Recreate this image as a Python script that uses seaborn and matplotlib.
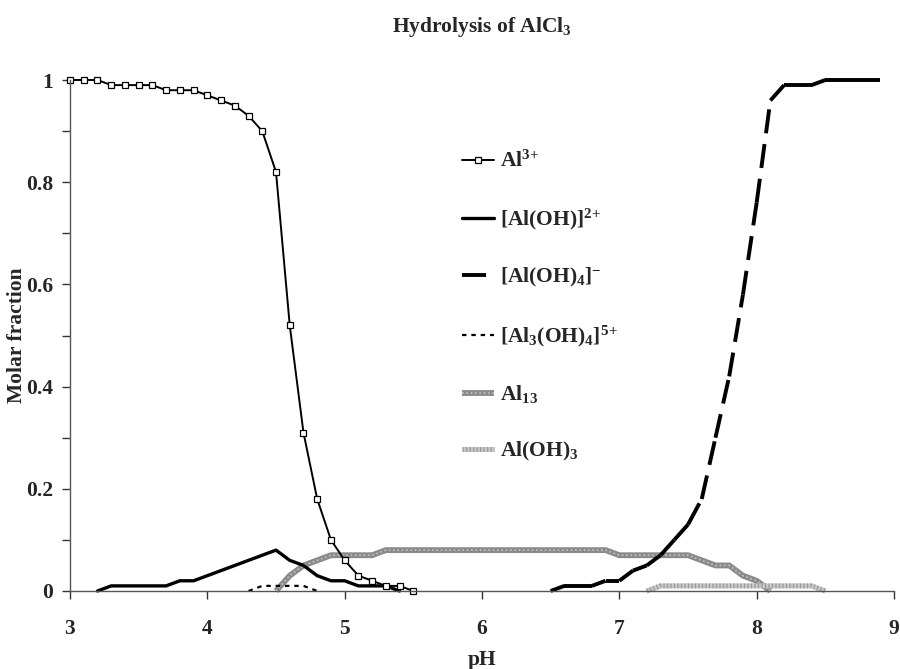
import numpy as np
import pandas as pd
import matplotlib
matplotlib.use("Agg")
import matplotlib.pyplot as plt
import seaborn as sns
from matplotlib.collections import LineCollection
from matplotlib.lines import Line2D
from matplotlib.legend_handler import HandlerTuple

# --- Speciation data (molar fraction vs pH) ---
ph_al3 = [3.0, 3.1, 3.2, 3.3, 3.4, 3.5, 3.6, 3.7, 3.8, 3.9, 4.0, 4.1, 4.2,
          4.3, 4.4, 4.5, 4.6, 4.7, 4.8, 4.9, 5.0, 5.1, 5.2, 5.3, 5.4, 5.5]
al3 = [1.00, 1.00, 1.00, 0.99, 0.99, 0.99, 0.99, 0.98, 0.98, 0.98, 0.97, 0.96, 0.95,
       0.93, 0.90, 0.82, 0.52, 0.31, 0.18, 0.10, 0.06, 0.03, 0.02, 0.01, 0.01, 0.00]

ph_aloh = [3.2, 3.3, 3.4, 3.5, 3.6, 3.7, 3.8, 3.9, 4.0, 4.1, 4.2, 4.3,
           4.4, 4.5, 4.6, 4.7, 4.8, 4.9, 5.0, 5.1, 5.2, 5.3, 5.4]
aloh = [0.00, 0.01, 0.01, 0.01, 0.01, 0.01, 0.02, 0.02, 0.03, 0.04, 0.05, 0.06,
        0.07, 0.08, 0.06, 0.05, 0.03, 0.02, 0.02, 0.01, 0.01, 0.01, 0.00]

ph_aloh4 = [6.5, 6.6, 6.7, 6.8, 6.9, 7.0, 7.1, 7.2, 7.3, 7.4, 7.5, 7.6, 7.7,
            7.8, 7.9, 8.0, 8.1, 8.2, 8.3, 8.4, 8.5, 8.6, 8.7, 8.8, 8.9]
aloh4 = [0.00, 0.01, 0.01, 0.01, 0.02, 0.02, 0.04, 0.05, 0.07, 0.10, 0.13, 0.18, 0.30,
         0.42, 0.58, 0.76, 0.96, 0.99, 0.99, 0.99, 1.00, 1.00, 1.00, 1.00, 1.00]

ph_al3oh4 = [4.3, 4.4, 4.5, 4.6, 4.7, 4.8]
al3oh4 = [0.00, 0.01, 0.01, 0.01, 0.01, 0.00]

ph_al13 = [4.5, 4.6, 4.7, 4.8, 4.9, 5.0, 5.1, 5.2, 5.3, 5.4, 5.5, 5.6, 5.7, 5.8,
           5.9, 6.0, 6.1, 6.2, 6.3, 6.4, 6.5, 6.6, 6.7, 6.8, 6.9, 7.0, 7.1, 7.2,
           7.3, 7.4, 7.5, 7.6, 7.7, 7.8, 7.9, 8.0, 8.1]
al13 = [0.00, 0.03, 0.05, 0.06, 0.07, 0.07, 0.07, 0.07, 0.08, 0.08, 0.08, 0.08, 0.08, 0.08,
        0.08, 0.08, 0.08, 0.08, 0.08, 0.08, 0.08, 0.08, 0.08, 0.08, 0.08, 0.07, 0.07, 0.07,
        0.07, 0.07, 0.07, 0.06, 0.05, 0.05, 0.03, 0.02, 0.00]

ph_aloh3 = [7.2, 7.3, 7.4, 7.5, 7.6, 7.7, 7.8, 7.9, 8.0, 8.1, 8.2, 8.3, 8.4, 8.5]
aloh3 = [0.00, 0.01, 0.01, 0.01, 0.01, 0.01, 0.01, 0.01, 0.01, 0.01, 0.01, 0.01, 0.01, 0.00]

x_ticks = [3, 4, 5, 6, 7, 8, 9]
y_ticks = [0, 0.2, 0.4, 0.6, 0.8, 1.0]
y_ticklabels = ["0", "0.2", "0.4", "0.6", "0.8", "1"]

labels = [r"Al$^{3\!+}$", r"[Al(OH)]$^{2\!+}$", r"[Al(OH)$_4$]$^{-}$",
          r"[Al$_3$(OH)$_4$]$^{5\!+}$", r"Al$_{13}$", r"Al(OH)$_3$"]

# --- Style ---
sns.set_theme(style="ticks")
plt.rcParams["font.family"] = ["Liberation Serif", "DejaVu Serif"]
plt.rcParams["font.weight"] = "bold"
plt.rcParams["mathtext.fontset"] = "custom"
plt.rcParams["mathtext.rm"] = "Liberation Serif:bold"
plt.rcParams["mathtext.bf"] = "Liberation Serif:bold"
plt.rcParams["mathtext.it"] = "Liberation Serif:bold"
FS = 15.5

fig = plt.figure(figsize=(9, 6.69), dpi=100)
fig.patch.set_facecolor("white")
ax = fig.add_axes([70 / 900, 1 - 591 / 669, (894 - 70) / 900, (591 - 80) / 669])
ax.set_facecolor("white")

df_al3 = pd.DataFrame({"pH": ph_al3, "frac": al3})
df_aloh = pd.DataFrame({"pH": ph_aloh, "frac": aloh})
df_al3oh4 = pd.DataFrame({"pH": ph_al3oh4, "frac": al3oh4})
df_al13 = pd.DataFrame({"pH": ph_al13, "frac": al13})
df_aloh3 = pd.DataFrame({"pH": ph_aloh3, "frac": aloh3})

# Al13 (grey textured band)
al13_base = dict(color="#8a8a8a", lw=4.2, solid_capstyle="butt")
al13_tex = dict(color="#c4c4c4", lw=1.2, dashes=(1.0, 1.6))
sns.lineplot(data=df_al13, x="pH", y="frac", ax=ax, sort=False, clip_on=False, **al13_base)
sns.lineplot(data=df_al13, x="pH", y="frac", ax=ax, sort=False, clip_on=False, **al13_tex)

# Al(OH)3 (light grey textured band)
aloh3_base = dict(color="#c8c8c8", lw=3.6, solid_capstyle="butt")
aloh3_tex = dict(color="#9a9a9a", lw=3.6, dashes=(0.25, 0.45))
sns.lineplot(data=df_aloh3, x="pH", y="frac", ax=ax, sort=False, clip_on=False, **aloh3_base)
sns.lineplot(data=df_aloh3, x="pH", y="frac", ax=ax, sort=False, clip_on=False, **aloh3_tex)

# [Al(OH)]2+
sns.lineplot(data=df_aloh, x="pH", y="frac", ax=ax, sort=False, clip_on=False,
             color="black", lw=2.4)

# [Al3(OH)4]5+
sns.lineplot(data=df_al3oh4, x="pH", y="frac", ax=ax, sort=False, clip_on=False,
             color="black", lw=1.6, dashes=(2.0, 2.2))

# [Al(OH)4]- : long dashes, pattern restarting at every data point
pts = np.column_stack([ph_aloh4, aloh4])
segs = np.stack([pts[:-1], pts[1:]], axis=1)
lc = LineCollection(segs, colors="black", linewidths=2.8,
                    linestyles=[(0, (6.2, 2.8))], capstyle="butt", clip_on=False)
ax.add_collection(lc)

# Al3+ with open square markers
sns.lineplot(data=df_al3, x="pH", y="frac", ax=ax, sort=False, clip_on=False,
             color="black", lw=1.4, marker="s", markersize=4.8,
             markerfacecolor="white", markeredgecolor="black", markeredgewidth=0.9)

# --- Axes ---
ax.set_xlim(3, 9)
ax.set_ylim(0, 1)
ax.set_xticks(x_ticks)
ax.set_xticklabels([str(t) for t in x_ticks], fontsize=FS, fontweight="bold")
ax.set_yticks(y_ticks)
ax.set_yticklabels(y_ticklabels, fontsize=FS, fontweight="bold")
ax.set_yticks([0.1, 0.3, 0.5, 0.7, 0.9], minor=True)
ax.tick_params(axis="both", which="both", direction="out", length=6, width=1,
               color="#333333")
ax.tick_params(axis="x", pad=14)
ax.tick_params(axis="y", pad=6)
for s in ["top", "right"]:
    ax.spines[s].set_visible(False)
for s in ["left", "bottom"]:
    ax.spines[s].set_color("#555555")
    ax.spines[s].set_linewidth(1.0)

ax.set_xlabel("pH", fontsize=FS, fontweight="bold", labelpad=8)
ax.set_ylabel("Molar fraction", fontsize=FS, fontweight="bold", va="center")
ax.yaxis.set_label_coords(-(70 - 17) / 824, 0.5)
fig.text(482 / 900, 1 - 27 / 669, r"Hydrolysis of AlCl$_3$", ha="center", va="center",
         fontsize=FS, fontweight="bold")

# --- Legend ---
h_al3 = Line2D([], [], color="black", lw=1.4, marker="s", markersize=4.8,
               markerfacecolor="white", markeredgecolor="black", markeredgewidth=0.9)
h_aloh = Line2D([], [], color="black", lw=2.4)
h_aloh4 = Line2D([], [], color="black", lw=2.8, dashes=(6.2, 2.8), dash_capstyle="butt")
h_al3oh4 = Line2D([], [], color="black", lw=1.6, dashes=(2.0, 2.2))
h_al13 = (Line2D([], [], **al13_base), Line2D([], [], **al13_tex))
h_aloh3 = (Line2D([], [], **aloh3_base), Line2D([], [], **aloh3_tex))

leg = ax.legend([h_al3, h_aloh, h_aloh4, h_al3oh4, h_al13, h_aloh3], labels,
                handler_map={tuple: HandlerTuple(ndivide=1, pad=0)},
                loc="upper left", bbox_to_anchor=(462 / 900, 1 - 151 / 669),
                bbox_transform=fig.transFigure, frameon=False, fontsize=FS,
                handlelength=1.5, handletextpad=0.25, labelspacing=1.6,
                borderpad=0, borderaxespad=0)
for t in leg.get_texts():
    t.set_fontweight("bold")

fig.savefig("out.png", dpi=100, facecolor="white")
